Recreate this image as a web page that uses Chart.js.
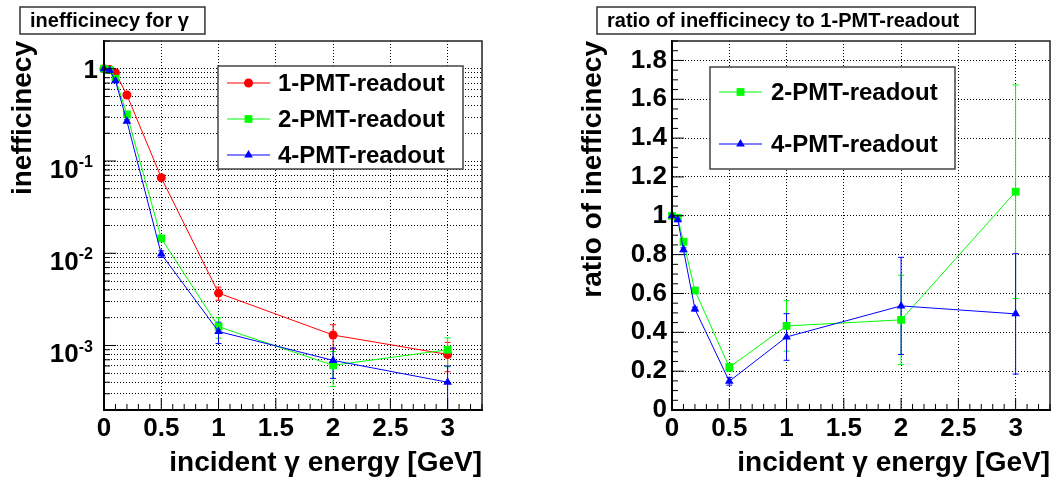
<!DOCTYPE html>
<html>
<head>
<meta charset="utf-8">
<script src="https://cdn.jsdelivr.net/npm/chart.js@4.4.0/dist/chart.umd.min.js"></script>
<style>
  html, body { margin: 0; padding: 0; background: #fff; }
  #wrap { display: flex; width: 1056px; height: 480px; }
  canvas { display: block; }
</style>
</head>
<body>
<div id="wrap">
  <canvas id="left" width="528" height="480"></canvas>
  <canvas id="right" width="528" height="480"></canvas>
</div>
<script>
// incident gamma energy [GeV]
const energies = [0, 0.05, 0.1, 0.2, 0.5, 1, 2, 3];

// inefficiency for gamma, per readout
const ineff1 = [1.0, 0.98, 0.905, 0.52, 0.066, 0.0037, 0.0013, 0.0008];
const ineff1Err = [0.01, 0.01, 0.01, 0.01, 0.003, 0.0006, 0.00038, 0.00028];
const ineff2 = [1.0, 0.97, 0.78, 0.32, 0.0145, 0.0016, 0.00061, 0.0009];
const ineff2Err = [0.01, 0.01, 0.01, 0.01, 0.001, 0.0004, 0.00025, 0.00031];
const ineff4 = [1.0, 0.96, 0.74, 0.27, 0.0098, 0.00142, 0.00069, 0.0004];
const ineff4Err = [0.01, 0.01, 0.01, 0.01, 0.0008, 0.00037, 0.00025, 0.0002];

// ratio of inefficiency to 1-PMT-readout
const ratio2 = [1.0, 0.99, 0.866, 0.615, 0.22, 0.433, 0.464, 1.124];
const ratio2Err = [0, 0.01, 0.01, 0.01, 0.02, 0.13, 0.23, 0.55];
const ratio4 = [1.0, 0.98, 0.825, 0.52, 0.148, 0.376, 0.536, 0.495];
const ratio4Err = [0, 0.01, 0.01, 0.01, 0.02, 0.12, 0.25, 0.31];

const seriesNames = ['1-PMT-readout', '2-PMT-readout', '4-PMT-readout'];

// tick labels
const energyTicks = [0, 0.5, 1, 1.5, 2, 2.5, 3];
const logTicks = [1e-3, 1e-2, 1e-1, 1];
const logTickExp = ['-3', '-2', '-1', ''];
const ratioTicks = [0, 0.2, 0.4, 0.6, 0.8, 1, 1.2, 1.4, 1.6, 1.8];

const RED = '#ff0000', GREEN = '#00ff00', BLUE = '#0000ff';
const FONT = "'Liberation Sans', Arial, sans-serif";
Chart.defaults.font.family = FONT;

function pts(vals) {
  return energies.map((x, i) => ({ x: x, y: vals[i] }));
}

function drawMarker(ctx, style, r, x, y, color) {
  ctx.fillStyle = color;
  ctx.beginPath();
  if (style === 'circle') {
    ctx.arc(x, y, r, 0, Math.PI * 2);
  } else if (style === 'rect') {
    const s = r * Math.SQRT1_2;
    ctx.rect(x - s, y - s, 2 * s, 2 * s);
  } else {
    ctx.moveTo(x, y - r);
    ctx.lineTo(x + r * 0.866, y + r * 0.5);
    ctx.lineTo(x - r * 0.866, y + r * 0.5);
    ctx.closePath();
  }
  ctx.fill();
}

// ROOT-like decorations: error bars, legend, title box, inner ticks, frame
const rootStyle = {
  id: 'rootStyle',
  beforeDatasetsDraw(chart) {
    const ctx = chart.ctx, area = chart.chartArea, ys = chart.scales.y;
    ctx.save();
    ctx.beginPath();
    ctx.rect(area.left, area.top, area.right - area.left, area.bottom - area.top);
    ctx.clip();
    chart.data.datasets.forEach((ds, i) => {
      if (!ds.errors) return;
      const meta = chart.getDatasetMeta(i);
      ctx.strokeStyle = ds.borderColor;
      ctx.lineWidth = 1;
      ds.data.forEach((p, j) => {
        const e = ds.errors[j];
        if (!e) return;
        const x = meta.data[j].x;
        const yTop = ys.getPixelForValue(p.y + e);
        const lo = p.y - e;
        const yBot = lo > 0 ? ys.getPixelForValue(lo) : area.bottom + 5;
        ctx.beginPath();
        ctx.moveTo(x, yTop); ctx.lineTo(x, yBot);
        ctx.moveTo(x - 3, yTop); ctx.lineTo(x + 3, yTop);
        ctx.moveTo(x - 3, yBot); ctx.lineTo(x + 3, yBot);
        ctx.stroke();
      });
    });
    ctx.restore();
  },
  afterDatasetsDraw(chart, args, opts) {
    const ctx = chart.ctx, lg = opts.legend;
    ctx.save();
    ctx.fillStyle = '#fff';
    ctx.fillRect(lg.box[0], lg.box[1], lg.box[2] - lg.box[0], lg.box[3] - lg.box[1]);
    ctx.strokeStyle = '#444';
    ctx.lineWidth = 1.5;
    ctx.strokeRect(lg.box[0], lg.box[1], lg.box[2] - lg.box[0], lg.box[3] - lg.box[1]);
    chart.data.datasets.forEach((ds, i) => {
      const y = lg.rows[i];
      ctx.strokeStyle = ds.borderColor;
      ctx.lineWidth = 1;
      ctx.beginPath();
      ctx.moveTo(lg.line[0], y); ctx.lineTo(lg.line[1], y);
      ctx.stroke();
      drawMarker(ctx, ds.pointStyle, ds.pointRadius, (lg.line[0] + lg.line[1]) / 2, y, ds.borderColor);
      ctx.fillStyle = '#000';
      ctx.font = 'bold 24px ' + FONT;
      ctx.textAlign = 'left';
      ctx.textBaseline = 'middle';
      ctx.fillText(ds.label, lg.textX, y + 1);
    });
    ctx.restore();
  },
  afterDraw(chart, args, opts) {
    const ctx = chart.ctx, a = chart.chartArea;
    const xs = chart.scales.x, ys = chart.scales.y;
    ctx.save();
    // frame
    ctx.strokeStyle = '#222';
    ctx.lineWidth = 1.5;
    ctx.strokeRect(a.left, a.top, a.right - a.left, a.bottom - a.top);
    ctx.strokeStyle = '#000';
    ctx.lineWidth = 2;
    ctx.beginPath();
    ctx.moveTo(a.left, a.top); ctx.lineTo(a.left, a.bottom); ctx.lineTo(a.right, a.bottom);
    ctx.stroke();
    // inner ticks
    ctx.lineWidth = 1;
    ctx.beginPath();
    for (let i = 0; i * 0.1 <= xs.max + 1e-9; i++) {
      const x = xs.getPixelForValue(i * 0.1);
      const len = i % 5 === 0 ? 12 : 6;
      ctx.moveTo(x, a.bottom); ctx.lineTo(x, a.bottom - len);
    }
    if (ys.type === 'logarithmic') {
      for (let e = -4; e <= 0; e++) {
        for (let m = 1; m <= 9; m++) {
          const v = m * Math.pow(10, e);
          if (v < ys.min || v > ys.max) continue;
          const y = ys.getPixelForValue(v);
          ctx.moveTo(a.left, y); ctx.lineTo(a.left + (m === 1 ? 12 : 6), y);
        }
      }
    } else {
      for (let i = 0; i * 0.05 <= ys.max + 1e-9; i++) {
        const y = ys.getPixelForValue(i * 0.05);
        ctx.moveTo(a.left, y); ctx.lineTo(a.left + (i % 4 === 0 ? 12 : 6), y);
      }
    }
    ctx.stroke();
    // log tick labels with superscript exponents
    if (ys.type === 'logarithmic') {
      ctx.fillStyle = '#000';
      ctx.textAlign = 'right';
      ctx.textBaseline = 'alphabetic';
      logTicks.forEach((v, i) => {
        const y = ys.getPixelForValue(v);
        const ex = logTickExp[i];
        if (!ex) {
          ctx.font = 'bold 26px ' + FONT;
          ctx.fillText('1', a.left - 6, y + 9);
        } else {
          ctx.font = 'bold 16px ' + FONT;
          const w = ctx.measureText(ex).width;
          ctx.fillText(ex, a.left - 11, y + 6);
          ctx.font = 'bold 26px ' + FONT;
          ctx.fillText('10', a.left - 11 - w, y + 16.5);
        }
      });
    }
    // title box
    const t = opts.title;
    ctx.font = 'bold 20px ' + FONT;
    const tw = ctx.measureText(t.text).width;
    ctx.fillStyle = '#fff';
    ctx.fillRect(t.x - 10, 7, tw + 26, 27);
    ctx.strokeStyle = '#333';
    ctx.lineWidth = 1.5;
    ctx.strokeRect(t.x - 10, 7, tw + 26, 27);
    ctx.fillStyle = '#000';
    ctx.textAlign = 'left';
    ctx.textBaseline = 'middle';
    ctx.fillText(t.text, t.x, 21);
    ctx.restore();
  }
};

function lineSet(label, vals, errs, color, style, radius, order) {
  return {
    label: label,
    data: pts(vals),
    errors: errs,
    borderColor: color,
    backgroundColor: color,
    borderWidth: 1,
    pointStyle: style,
    pointRadius: radius,
    pointBorderWidth: 0,
    tension: 0,
    clip: false,
    order: order
  };
}

function xScale() {
  return {
    type: 'linear',
    min: 0,
    max: 3.3,
    afterBuildTicks: s => { s.ticks = energyTicks.map(v => ({ value: v })); },
    afterFit: s => { s.height = 70; },
    grid: { color: '#000', lineWidth: 1, drawTicks: false },
    border: { display: true, color: '#000', width: 2, dash: [1, 2] },
    ticks: {
      color: '#000', font: { size: 26, weight: 'bold' }, padding: 3,
      autoSkip: false, maxRotation: 0, callback: v => String(v)
    },
    title: {
      display: true, text: 'incident γ energy [GeV]', align: 'end', color: '#000',
      font: { size: 28, weight: 'bold' }, padding: { top: 0, bottom: 0 }
    }
  };
}

const common = {
  responsive: false,
  animation: false,
  events: []
};

new Chart(document.getElementById('left'), {
  type: 'line',
  data: {
    datasets: [
      lineSet(seriesNames[0], ineff1, ineff1Err, RED, 'circle', 4.5, 2),
      lineSet(seriesNames[1], ineff2, ineff2Err, GREEN, 'rect', 5.5, 1),
      lineSet(seriesNames[2], ineff4, ineff4Err, BLUE, 'triangle', 5, 0)
    ]
  },
  options: Object.assign({}, common, {
    layout: { padding: { left: 0, top: 41, right: 46, bottom: 0 } },
    scales: {
      x: xScale(),
      y: {
        type: 'logarithmic',
        min: 2e-4,
        max: 2,
        afterBuildTicks: s => {
          const t = [];
          for (let e = -4; e <= 0; e++) {
            for (let m = 1; m <= 9; m++) {
              const v = m * Math.pow(10, e);
              if (v > s.min * 1.01 && v < s.max * 0.99) t.push({ value: v });
            }
          }
          s.ticks = t;
        },
        afterFit: s => { s.width = 104; },
        grid: { color: '#000', lineWidth: 1, drawTicks: false },
        border: { display: true, color: '#000', width: 2, dash: [1, 2] },
        ticks: { display: false, autoSkip: false },
        title: {
          display: true, text: 'inefficinecy', align: 'end', color: '#000',
          font: { size: 28, weight: 'bold' }, padding: { top: 6, bottom: 0 }
        }
      }
    },
    plugins: {
      legend: { display: false },
      tooltip: { enabled: false },
      rootStyle: {
        title: { text: 'inefficinecy for γ', x: 30 },
        legend: { box: [218, 66, 463, 169], line: [227, 270], textX: 278, rows: [83, 119, 155] }
      }
    }
  }),
  plugins: [rootStyle]
});

new Chart(document.getElementById('right'), {
  type: 'line',
  data: {
    datasets: [
      lineSet(seriesNames[1], ratio2, ratio2Err, GREEN, 'rect', 5.5, 1),
      lineSet(seriesNames[2], ratio4, ratio4Err, BLUE, 'triangle', 5, 0)
    ]
  },
  options: Object.assign({}, common, {
    layout: { padding: { left: 0, top: 41, right: 6, bottom: 0 } },
    scales: {
      x: xScale(),
      y: {
        type: 'linear',
        min: 0,
        max: 1.9,
        afterBuildTicks: s => { s.ticks = ratioTicks.map(v => ({ value: v })); },
        afterFit: s => { s.width = 144; },
        grid: { color: '#000', lineWidth: 1, drawTicks: false },
        border: { display: true, color: '#000', width: 2, dash: [1, 2] },
        ticks: {
          color: '#000', font: { size: 26, weight: 'bold' }, padding: 5,
          autoSkip: false, callback: v => String(Math.round(v * 10) / 10)
        },
        title: {
          display: true, text: 'ratio of inefficinecy', align: 'end', color: '#000',
          font: { size: 28, weight: 'bold' }, padding: { top: 48, bottom: 0 }
        }
      }
    },
    plugins: {
      legend: { display: false },
      tooltip: { enabled: false },
      rootStyle: {
        title: { text: 'ratio of inefficinecy to 1-PMT-readout', x: 79 },
        legend: { box: [182, 67, 427, 169], line: [191, 234], textX: 243, rows: [92, 144] }
      }
    }
  }),
  plugins: [rootStyle]
});
</script>
</body>
</html>
